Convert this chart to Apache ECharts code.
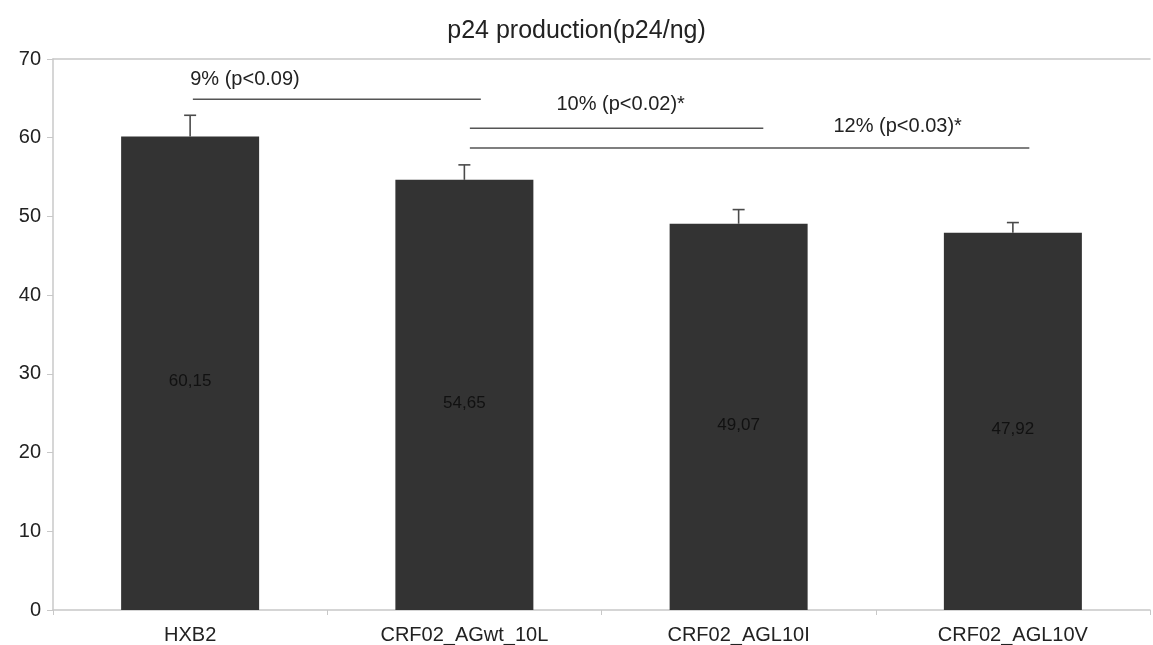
<!DOCTYPE html>
<html><head><meta charset="utf-8">
<script src="https://cdn.jsdelivr.net/npm/echarts@6/dist/echarts.min.js"></script>
<style>html,body{margin:0;padding:0;background:#fff}#c{width:1153px;height:645px}</style>
</head><body><div id="c"></div>
<script>
var categories = ['HXB2', 'CRF02_AGwt_10L', 'CRF02_AGL10I', 'CRF02_AGL10V'];
var values = [60.15, 54.65, 49.07, 47.92];
var errors = [2.7, 1.9, 1.8, 1.3];
var valueLabels = ['60,15', '54,65', '49,07', '47,92'];
var yTicks = [0, 10, 20, 30, 40, 50, 60, 70];
var bracketStart = [0.01, 1.02, 1.02];
var bracketEnd = [1.06, 2.09, 3.06];
var bracketY = [64.9, 61.2, 58.7];
var bracketLabels = ['9% (p<0.09)', '10% (p<0.02)*', '12% (p<0.03)*'];
var bracketLabelX = [0.20, 1.57, 2.58];
var bracketLabelY = [67.4, 64.2, 61.4];

var chart = echarts.init(document.getElementById('c'));
var font = 'Liberation Sans, Arial, sans-serif';
var errData = values.map(function(v, i){ return [i, v, v + errors[i]]; });
var brData = bracketStart.map(function(s, i){
  return [s, bracketEnd[i], bracketY[i], bracketLabelX[i], bracketLabelY[i], bracketLabels[i]];
});
chart.setOption({
  animation: false,
  title: { text: 'p24 production(p24/ng)', left: 'center', top: 14,
    textStyle: { fontFamily: font, fontSize: 25, fontWeight: 'normal', color: '#222' } },
  grid: { left: 53, right: 3, top: 59, bottom: 34 },
  xAxis: [{
    type: 'category', data: categories,
    axisLine: { lineStyle: { color: '#c8c8c8', width: 1.5 } },
    axisTick: { show: true, length: 5, lineStyle: { color: '#c8c8c8' } },
    axisLabel: { fontFamily: font, fontSize: 20, color: '#222', margin: 15 }
  }, {
    type: 'value', min: -0.5, max: 3.5, position: 'top',
    axisLine: { show: true, onZero: false, lineStyle: { color: '#c8c8c8', width: 1.5 } },
    axisTick: { show: false }, axisLabel: { show: false }, splitLine: { show: false }
  }],
  yAxis: {
    type: 'value', min: 0, max: 70, interval: 10,
    axisLine: { show: true, onZero: false, lineStyle: { color: '#c8c8c8', width: 1.5 } },
    axisTick: { show: true, length: 6, lineStyle: { color: '#c8c8c8' } },
    splitLine: { show: false },
    axisLabel: { fontFamily: font, fontSize: 20, color: '#222', margin: 12,
      formatter: function(v){ return yTicks.indexOf(v) >= 0 ? String(v) : ''; } }
  },
  series: [{
    type: 'bar', data: values, barWidth: 138,
    itemStyle: { color: '#333333' },
    label: { show: true, position: 'inside', offset: [0, 8],
      fontFamily: 'Liberation Sans Narrow, Liberation Sans, Arial', fontSize: 17, color: '#111',
      formatter: function(p){ return valueLabels[p.dataIndex]; } }
  }, {
    type: 'custom', data: errData, z: 5,
    renderItem: function(params, api){
      var x = api.value(0);
      var p1 = api.coord([x, api.value(1)]);
      var p2 = api.coord([x, api.value(2)]);
      var st = { stroke: '#4a4a4a', lineWidth: 1.6 };
      return { type: 'group', children: [
        { type: 'line', shape: { x1: p1[0], y1: p1[1], x2: p2[0], y2: p2[1] }, style: st },
        { type: 'line', shape: { x1: p2[0] - 6, y1: p2[1], x2: p2[0] + 6, y2: p2[1] }, style: st }
      ]};
    }
  }, {
    type: 'custom', xAxisIndex: 1, data: brData, z: 6,
    renderItem: function(params, api){
      var a = api.coord([api.value(0), api.value(2)]);
      var b = api.coord([api.value(1), api.value(2)]);
      var t = api.coord([api.value(3), api.value(4)]);
      return { type: 'group', children: [
        { type: 'line', shape: { x1: a[0], y1: a[1], x2: b[0], y2: b[1] },
          style: { stroke: '#555', lineWidth: 1.5 } },
        { type: 'text', x: t[0], y: t[1],
          style: { text: brData[params.dataIndex][5], fontFamily: font, fontSize: 20,
            fill: '#222', align: 'center', verticalAlign: 'middle' } }
      ]};
    }
  }]
});
</script></body></html>
